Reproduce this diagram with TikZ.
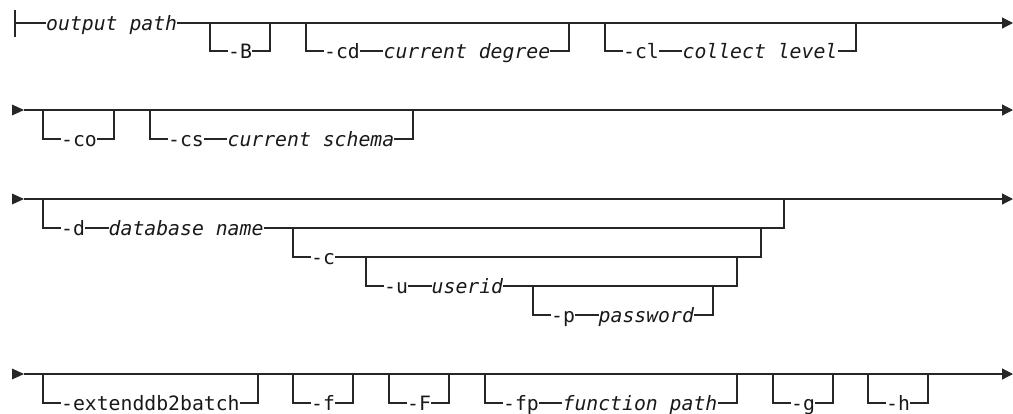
\documentclass[tikz,border=0pt]{standalone}
\usepackage{fontspec}
\newfontfamily\railfont{DejaVu Sans Mono}
\usetikzlibrary{arrows.meta}
\tikzset{
  rail/.style={draw=black!85, line width=1.2pt},
  kw/.style={font=\railfont\fontsize{19.77}{22}\selectfont, text=black!90,
    inner sep=0pt, text height=15.4pt, text depth=0pt, anchor=west},
  var/.style={kw, font=\railfont\fontsize{19.77}{22}\selectfont\itshape},
  endtip/.style={-{Triangle[length=11pt,width=11pt]}}
}
\begin{document}
\begin{tikzpicture}[x=1pt,y=-1pt]
  \useasboundingbox (0,0) rectangle (1013,413);
  % row starts and ends
  \foreach \y/\r in {110/2,199/3,374/4}{
    \fill[black!85] (12,\y-5.5) -- (24,\y) -- (12,\y+5.5) -- cycle;
    \coordinate (s\r) at (24,\y);
    \coordinate (e\r) at (1013,\y);
  }
  \coordinate (s1) at (15,23);
  \coordinate (e1) at (1013,23);

  % row 1
  \draw[rail] (15,10) -- (15,37);
  \node[var] (outpath) at (46,23) {output path};
  \draw[rail] (s1) -- (outpath.west);
  \draw[rail, endtip] (outpath.east) -- (e1);
  \node[kw] (optB) at (227.9,51) {-B};
  \draw[rail] (210,23) |- (optB.west) (optB.east) -| (270,23);
  \node[kw] (optcd) at (323.9,51) {-cd};
  \node[var] (curdeg) at (383.4,51) {current degree};
  \draw[rail] (306,23) |- (optcd.west) (optcd.east) -- (curdeg.west)
    (curdeg.east) -| (569,23);
  \node[kw] (optcl) at (622.9,51) {-cl};
  \node[var] (collevel) at (682.4,51) {collect level};
  \draw[rail] (605,23) |- (optcl.west) (optcl.east) -- (collevel.west)
    (collevel.east) -| (856,23);

  % row 2
  \draw[rail, endtip] (s2) -- (e2);
  \node[kw] (optco) at (60.9,139) {-co};
  \draw[rail] (43,110) |- (optco.west) (optco.east) -| (114,110);
  \node[kw] (optcs) at (167.9,139) {-cs};
  \node[var] (curschema) at (227.4,139) {current schema};
  \draw[rail] (150,110) |- (optcs.west) (optcs.east) -- (curschema.west)
    (curschema.east) -| (413,110);

  % row 3 (nested options)
  \draw[rail, endtip] (s3) -- (e3);
  \node[kw] (optd) at (60.9,228) {-d};
  \node[var] (dbname) at (108.5,228) {database name};
  \draw[rail] (43,199) |- (optd.west) (optd.east) -- (dbname.west)
    (dbname.east) -| (784,199);
  \node[kw] (optc) at (310.9,257) {-c};
  \draw[rail] (293,228) |- (optc.west) (optc.east) -| (761,228);
  \node[kw] (optu) at (383.9,286) {-u};
  \node[var] (userid) at (431.5,286) {userid};
  \draw[rail] (366,257) |- (optu.west) (optu.east) -- (userid.west)
    (userid.east) -| (737,257);
  \node[kw] (optp) at (550.9,315) {-p};
  \node[var] (passwd) at (598.5,315) {password};
  \draw[rail] (533,286) |- (optp.west) (optp.east) -- (passwd.west)
    (passwd.east) -| (713,286);

  % row 4
  \draw[rail, endtip] (s4) -- (e4);
  \node[kw] (optext) at (60.9,403) {-extenddb2batch};
  \draw[rail] (43,374) |- (optext.west) (optext.east) -| (258,374);
  \node[kw] (optf) at (310.9,403) {-f};
  \draw[rail] (293,374) |- (optf.west) (optf.east) -| (353,374);
  \node[kw] (optF) at (406.9,403) {-F};
  \draw[rail] (389,374) |- (optF.west) (optF.east) -| (449,374);
  \node[kw] (optfp) at (502.9,403) {-fp};
  \node[var] (funcpath) at (562.4,403) {function path};
  \draw[rail] (485,374) |- (optfp.west) (optfp.east) -- (funcpath.west)
    (funcpath.east) -| (737,374);
  \node[kw] (optg) at (790.9,403) {-g};
  \draw[rail] (773,374) |- (optg.west) (optg.east) -| (833,374);
  \node[kw] (opth) at (885.9,403) {-h};
  \draw[rail] (868,374) |- (opth.west) (opth.east) -| (928,374);
\end{tikzpicture}
\end{document}
